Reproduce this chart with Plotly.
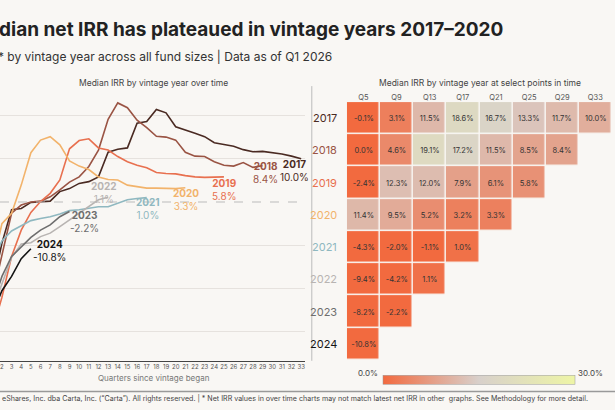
import plotly.graph_objects as go

vintages = ["2017", "2018", "2019", "2020", "2021", "2022", "2023", "2024"]
colors = ["#4a2a22", "#9a5444", "#e8704f", "#f2b36b", "#8fb8c0", "#b8b4b2", "#6e6e6e", "#151515"]
irr_2017 = [-20, -9.5, -1.8, -1.5, -0.1, 0.1, 0.2, 2.4, 3.1, 4.3, 4.7, 5.8, 11.5, 12.2, 12.5, 18.2, 18.6, 21.4, 20.6, 17.4, 16.7, 15.9, 15.1, 13.7, 13.3, 12.9, 12.1, 11.6, 11.7, 11.4, 11.1, 10.6, 10.0]
irr_2018 = [-22, -12.6, -2.6, -0.7, 0.0, 0.2, 1.2, 2.8, 4.6, 5.8, 8.2, 12.0, 19.1, 22.9, 21.8, 18.9, 17.2, 15.2, 15.0, 14.3, 11.5, 10.6, 10.5, 9.3, 8.5, 8.3, 9.1, 8.0, 8.4]
irr_2019 = [-30, -22, -12.6, -6.5, -2.4, 0.1, 2.0, 5.1, 12.3, 14.2, 14.6, 12.5, 12.0, 10.5, 9.3, 8.5, 7.9, 6.8, 6.6, 6.5, 6.1, 5.8, 5.7, 5.7, 5.8]
irr_2020 = [-15, -5, -2.6, 3.9, 11.4, 14.3, 15.1, 13.2, 9.5, 8.3, 7.5, 5.8, 5.2, 5.1, 3.9, 3.5, 3.2, 3.2, 3.1, 3.1, 3.3]
irr_2021 = [-14, -9.0, -6.7, -5.5, -4.3, -3.8, -3.4, -2.8, -2.0, -1.8, -1.5, -1.1, -1.1, -0.3, 0.5, 0.8, 1.0]
irr_2022 = [-25, -18.9, -12.8, -9.7, -9.4, -8.0, -7.2, -5.7, -4.2, -2.6, -1.1, 0.5, 1.1]
irr_2023 = [-24, -17.2, -12.6, -10.3, -8.2, -6.5, -5.3, -3.4, -2.2]
irr_2024 = [-26, -20.5, -17.2, -13.1, -10.8]
series = [irr_2017, irr_2018, irr_2019, irr_2020, irr_2021, irr_2022, irr_2023, irr_2024]
label_x = [32.3, 29.3, 25.1, 21.1, 17.1, 12.6, 10.6, 6.9]
label_y = [7.2, 6.9, 2.8, 0.5, -1.6, 2.3, -4.4, -11.3]

cols = ["Q5", "Q9", "Q13", "Q17", "Q21", "Q25", "Q29", "Q33"]
heat = [
    [-0.1, 3.1, 11.5, 18.6, 16.7, 13.3, 11.7, 10.0],
    [0.0, 4.6, 19.1, 17.2, 11.5, 8.5, 8.4, None],
    [-2.4, 12.3, 12.0, 7.9, 6.1, 5.8, None, None],
    [11.4, 9.5, 5.2, 3.2, 3.3, None, None, None],
    [-4.3, -2.0, -1.1, 1.0, None, None, None, None],
    [-9.4, -4.2, 1.1, None, None, None, None, None],
    [-8.2, -2.2, None, None, None, None, None, None],
    [-10.8, None, None, None, None, None, None, None],
]

bg = "#f9f7f4"
F = "Inter"
fig = go.Figure()
for v, c, s in zip(vintages, colors, series):
    fig.add_trace(go.Scatter(x=list(range(1, len(s) + 1)), y=s, mode="lines",
                             line=dict(color=c, width=1.6), showlegend=False, hoverinfo="skip"))
ann = []
for v, c, s, lx, ly in zip(vintages, colors, series, label_x, label_y):
    ann.append(dict(x=lx, y=ly, xref="x", yref="y", showarrow=False, xanchor="center",
                    text=f"<b>{v}</b><br>{s[-1]:.1f}%", font=dict(family=F, size=10, color=c),
                    align="center"))

xi = list(range(len(cols)))
yi = list(range(len(vintages)))
text = [["" if z is None else f"{z:.1f}%" for z in r] for r in heat]
fig.add_trace(go.Heatmap(z=heat, x=xi, y=yi, text=text, texttemplate="%{text}",
                         textfont=dict(family=F, size=7.5, color="#333"),
                         xaxis="x2", yaxis="y2", zmin=0, zmax=30, xgap=1.5, ygap=1.5,
                         colorscale=[[0, "#f26a3f"], [0.5, "#d8d0cb"], [1, "#eef5a6"]],
                         hoverinfo="skip",
                         colorbar=dict(orientation="h", x=0.607, xanchor="left", len=0.345,
                                       lenmode="fraction", y=0.072, yanchor="middle", thickness=9,
                                       showticklabels=False, outlinewidth=0.5, outlinecolor="#999")))
for i, (v, c) in enumerate(zip(vintages, colors)):
    ann.append(dict(x=-0.03, y=i, xref="x2 domain", yref="y2", xanchor="right", showarrow=False,
                    text=v, font=dict(family=F, size=11, color=c)))
ann += [
    dict(x=0.618, y=0.072, xref="paper", yref="paper", xanchor="right", showarrow=False,
         text="0.0%", font=dict(family=F, size=8, color="#444")),
    dict(x=0.937, y=0.072, xref="paper", yref="paper", xanchor="left", showarrow=False,
         text="30.0%", font=dict(family=F, size=8, color="#444")),
    dict(x=0.25, y=0.815, xref="paper", yref="paper", showarrow=False, xanchor="center",
         text="Median IRR by vintage year over time", font=dict(family=F, size=8.5, color="#444")),
    dict(x=0.78, y=0.815, xref="paper", yref="paper", showarrow=False, xanchor="center",
         text="Median IRR by vintage year at select points in time", font=dict(family=F, size=8.5, color="#444")),
    dict(x=0.25, y=0.062, xref="paper", yref="paper", showarrow=False, xanchor="center",
         text="Quarters since vintage began", font=dict(family=F, size=8, color="#777")),
    dict(x=-0.052, y=0.96, xref="paper", yref="paper", xanchor="left", showarrow=False,
         text="<b>Median net IRR has plateaued in vintage years 2017–2020</b>",
         font=dict(family=F, size=19, color="#222")),
    dict(x=-0.11, y=0.885, xref="paper", yref="paper", xanchor="left", showarrow=False,
         text="Median IRR* by vintage year across all fund sizes | Data as of Q1 2026",
         font=dict(family=F, size=12, color="#333")),
    dict(x=-0.045, y=0.013, xref="paper", yref="paper", xanchor="left", showarrow=False,
         text="© 2026 eShares, Inc. dba Carta, Inc. (“Carta”). All rights reserved. | * Net IRR values in over time charts may not match latest net IRR in other  graphs. See Methodology for more detail.",
         font=dict(family=F, size=7.1, color="#444")),
]
shapes = [
    dict(type="line", xref="paper", yref="paper", x0=0.507, x1=0.507, y0=0.12, y1=0.79,
         line=dict(color="#bbb", width=1)),
    dict(type="line", xref="paper", yref="paper", x0=0, x1=1, y0=0.045, y1=0.045,
         line=dict(color="#999", width=1.5)),
    dict(type="line", xref="x domain", yref="y", x0=0, x1=1, y0=0, y1=0,
         line=dict(color="#bbb", width=1, dash="dash")),
]
fig.update_layout(
    width=615, height=410, margin=dict(l=0, r=0, t=0, b=0, autoexpand=False),
    paper_bgcolor=bg, plot_bgcolor=bg, annotations=ann, shapes=shapes,
    xaxis=dict(domain=[0, 0.496], range=[1.8, 33.4], tickmode="linear", tick0=1, dtick=1,
               tickangle=0, showgrid=False, zeroline=False, showline=True, linecolor="#444",
               automargin=False, tickfont=dict(family=F, size=6, color="#555")),
    yaxis=dict(domain=[0.12, 0.768], range=[-36.7, 24.7], tickvals=[-30, -20, -10, 10, 20],
               showticklabels=False, gridcolor="#e6e2de", zeroline=False, automargin=False),
    xaxis2=dict(domain=[0.564, 0.995], anchor="y2", side="top", showgrid=False, zeroline=False,
                range=[-0.5, 7.5], tickvals=xi, ticktext=cols, automargin=False,
                tickfont=dict(family=F, size=7.5, color="#555"), ticks=""),
    yaxis2=dict(domain=[0.122, 0.751], anchor="x2", range=[7.5, -0.5], showticklabels=False,
                showgrid=False, zeroline=False, automargin=False),
)
fig.write_html("out.html", config={"displayModeBar": False},
               post_script="document.body.style.margin='0';document.body.style.background='#f9f7f4';")
